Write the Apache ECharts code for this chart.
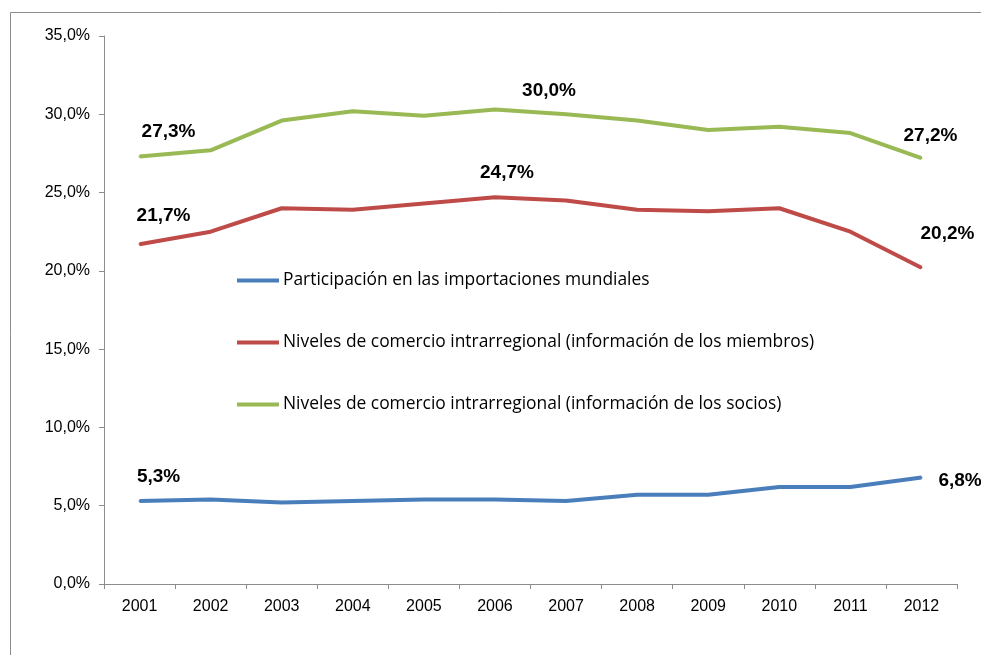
<!DOCTYPE html>
<html>
<head>
<meta charset="utf-8">
<script src="https://cdn.jsdelivr.net/npm/echarts@6/dist/echarts.min.js"></script>
<style>
html,body{margin:0;padding:0;background:#fff;}
#chart{width:981px;height:655px;}
</style>
</head>
<body>
<div id="chart"></div>
<script>
var years = ['2001','2002','2003','2004','2005','2006','2007','2008','2009','2010','2011','2012'];
var importaciones = [5.3,5.4,5.2,5.3,5.4,5.4,5.3,5.7,5.7,6.2,6.2,6.8];
var miembros = [21.7,22.5,24.0,23.9,24.3,24.7,24.5,23.9,23.8,24.0,22.5,20.2];
var socios = [27.3,27.7,29.6,30.2,29.9,30.3,30.0,29.6,29.0,29.2,28.8,27.2];
var seriesNames = [
  'Participación en las importaciones mundiales',
  'Niveles de comercio intrarregional (información de los miembros)',
  'Niveles de comercio intrarregional (información de los socios)'
];

function fmt(v){ return v.toFixed(1).replace('.', ',') + '%'; }

// etiquetas visibles: indice -> [posicion, offset]
var labelCfg = [
  {0: ['top',[19,-9]], 11: ['right',[11,3]]},
  {0: ['top',[24,-13]], 5: ['top',[12,-9]], 11: ['top',[26,-18]]},
  {0: ['top',[29,-9]], 6: ['top',[-17,-8]], 11: ['top',[9,-7]]}
];

function buildData(arr, cfg){
  return arr.map(function(v, i){
    var c = cfg[i];
    if(!c) return {value: v, label: {show: false}};
    return {value: v, label: {show: true, position: c[0], offset: c[1]}};
  });
}

var colors = ['#4a7ebb','#be4b48','#98b954'];
var allData = [importaciones, miembros, socios];

var myChart = echarts.init(document.getElementById('chart'));
var option = {
  animation: false,
  color: colors,
  graphic: [{
    type: 'rect',
    shape: {x: 10.5, y: 12.5, width: 1200, height: 900},
    style: {fill: 'none', stroke: '#8c8c8c', lineWidth: 1},
    silent: true
  }],
  grid: {left: 104, right: 24, top: 36, bottom: 71},
  legend: {
    orient: 'vertical',
    left: 237,
    top: 272,
    padding: 0,
    itemGap: 45,
    itemWidth: 42,
    itemHeight: 4,
    icon: 'rect',
    textStyle: {fontFamily: 'Open Sans', fontSize: 17.4, color: '#000', padding: [0,0,0,-1]},
    data: seriesNames
  },
  xAxis: {
    type: 'category',
    data: years,
    boundaryGap: true,
    axisLine: {lineStyle: {color: '#8c8c8c', width: 1}},
    axisTick: {show: true, length: 5, lineStyle: {color: '#8c8c8c'}},
    axisLabel: {color: '#000', fontFamily: 'Liberation Sans', fontSize: 16, margin: 15}
  },
  yAxis: {
    type: 'value',
    min: 0,
    max: 35,
    interval: 5,
    axisLine: {show: true, lineStyle: {color: '#8c8c8c', width: 1}},
    axisTick: {show: true, length: 5, lineStyle: {color: '#8c8c8c'}},
    splitLine: {show: false},
    axisLabel: {color: '#000', fontFamily: 'Liberation Sans', fontSize: 16, margin: 14,
      formatter: function(v){ return fmt(v); }}
  },
  series: allData.map(function(arr, k){
    return {
      name: seriesNames[k],
      type: 'line',
      data: buildData(arr, labelCfg[k]),
      symbol: 'circle',
      symbolSize: 2,
      lineStyle: {width: 4, color: colors[k]},
      itemStyle: {color: colors[k]},
      label: {
        formatter: function(p){ return fmt(p.value); },
        fontFamily: 'Liberation Sans',
        fontWeight: 'bold',
        fontSize: 19,
        color: '#000'
      }
    };
  })
};
myChart.setOption(option);
window.onresize = function(){ myChart.resize(); };
</script>
</body>
</html>
